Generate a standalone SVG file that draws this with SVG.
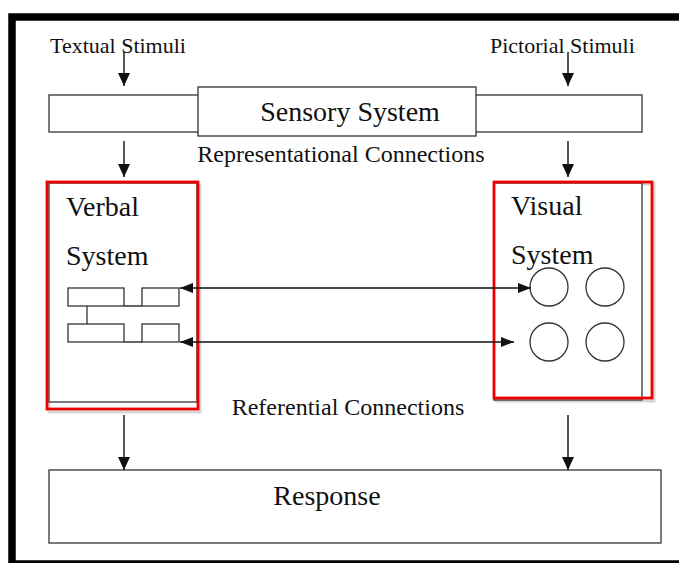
<svg xmlns="http://www.w3.org/2000/svg" width="679" height="563" viewBox="0 0 679 563">
  <style>
    .box { fill: #ffffff; stroke: #333333; stroke-width: 1.3; }
    .thin { fill: none; stroke: #333333; stroke-width: 1.3; }
    .red { fill: none; stroke: #ee0000; stroke-width: 2.8; }
    .shadow { fill: none; stroke: #d6d6d6; stroke-width: 3; }
    .conn { fill: none; stroke: #111111; stroke-width: 1.4; }
    text { font-family: "Liberation Serif", "Times New Roman", serif; fill: #111111; }
    .t22 { font-size: 22px; }
    .t24 { font-size: 24px; }
    .t28 { font-size: 28px; }
  </style>
  <defs>
    <marker id="arrow" viewBox="0 0 13 12" refX="13" refY="6" markerWidth="13" markerHeight="12" markerUnits="userSpaceOnUse" orient="auto-start-reverse">
      <path d="M0,0 L13,6 L0,12 z" fill="#111111"/>
    </marker>
    <marker id="arrowS" viewBox="0 0 13 10" refX="13" refY="5" markerWidth="13" markerHeight="10" markerUnits="userSpaceOnUse" orient="auto-start-reverse">
      <path d="M0,0 L13,5 L0,10 z" fill="#111111"/>
    </marker>
  </defs>

  <rect width="679" height="563" fill="#ffffff"/>

  <g id="frame">
    <rect x="12" y="17" width="700" height="547" fill="none" stroke="#000000" stroke-width="7.5"/>
  </g>

  <g id="textual-stimuli">
    <text class="t22" x="50" y="53">Textual Stimuli</text>
  </g>
  <g id="pictorial-stimuli">
    <text class="t22" x="490" y="53">Pictorial Stimuli</text>
  </g>

  <g id="sensory-system">
    <rect class="box" x="49" y="95" width="593" height="37"/>
    <rect class="box" x="198" y="87" width="278" height="49"/>
    <text class="t28" x="350" y="121" text-anchor="middle">Sensory System</text>
  </g>

  <g id="representational-label">
    <text class="t24" x="341" y="162" text-anchor="middle">Representational Connections</text>
  </g>

  <g id="verbal-system">
    <rect class="shadow" x="49" y="185" width="151" height="227"/>
    <rect class="box" x="49" y="183" width="148" height="219"/>
    <rect class="red" x="47" y="182" width="151" height="227"/>
    <text class="t28" x="66" y="216">Verbal</text>
    <text class="t28" x="66" y="265">System</text>
    <rect class="box" x="68" y="288" width="56" height="18"/>
    <rect class="box" x="142" y="288" width="37" height="18"/>
    <rect class="box" x="68" y="324" width="56" height="18"/>
    <rect class="box" x="142" y="324" width="37" height="18"/>
    <path class="thin" d="M124,306 H142 M124,342 H142 M87,306 V324"/>
  </g>

  <g id="visual-system">
    <rect class="shadow" x="496" y="184" width="158" height="217"/>
    <rect class="box" x="494" y="183" width="148" height="217"/>
    <rect class="red" x="494" y="182" width="158" height="216"/>
    <text class="t28" x="511" y="215">Visual</text>
    <text class="t28" x="511" y="264">System</text>
    <circle class="thin" cx="549" cy="287" r="19"/>
    <circle class="thin" cx="605" cy="287" r="19"/>
    <circle class="thin" cx="549" cy="342" r="19"/>
    <circle class="thin" cx="605" cy="342" r="19"/>
  </g>

  <g id="referential-label">
    <text class="t24" x="348" y="415" text-anchor="middle">Referential Connections</text>
  </g>

  <g id="response">
    <rect class="box" x="49" y="470" width="612" height="73"/>
    <text class="t28" x="327" y="505" text-anchor="middle">Response</text>
  </g>

  <g id="connectors">
    <line class="conn" x1="124" y1="52" x2="124" y2="86" marker-end="url(#arrow)"/>
    <line class="conn" x1="568" y1="52" x2="568" y2="86" marker-end="url(#arrow)"/>
    <line class="conn" x1="124" y1="141" x2="124" y2="177" marker-end="url(#arrow)"/>
    <line class="conn" x1="568" y1="141" x2="568" y2="177" marker-end="url(#arrow)"/>
    <line class="conn" x1="180" y1="288" x2="531" y2="288" marker-start="url(#arrowS)" marker-end="url(#arrowS)"/>
    <line class="conn" x1="180" y1="342" x2="514" y2="342" marker-start="url(#arrowS)" marker-end="url(#arrowS)"/>
    <line class="conn" x1="124" y1="415" x2="124" y2="470" marker-end="url(#arrow)"/>
    <line class="conn" x1="568" y1="415" x2="568" y2="470" marker-end="url(#arrow)"/>
  </g>
</svg>
